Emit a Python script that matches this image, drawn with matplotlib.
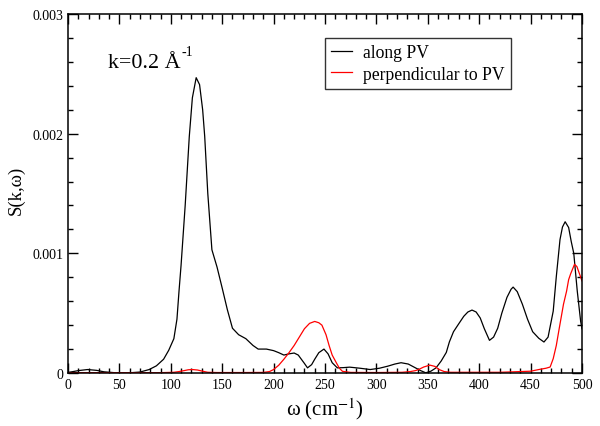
import numpy as np
import matplotlib
matplotlib.use('Agg')
import matplotlib.pyplot as plt
from matplotlib.ticker import MultipleLocator

plt.rcParams['font.family'] = ['Liberation Serif', 'DejaVu Serif']
plt.rcParams['mathtext.fontset'] = 'stix'

# S(k,w) along PV (values in units of 1e-3)
w_along = [0, 5, 10, 19, 28, 35, 45, 60, 70, 79, 86, 93, 98, 103, 106, 108, 110, 114, 118, 121,
           124.7, 128, 131, 133, 136, 140, 145, 150, 155, 160, 166, 173, 180, 185, 193, 200, 205,
           210, 215, 220, 224, 227, 230, 233, 237, 240, 244, 249, 253, 257, 262, 268, 274, 284,
           294, 303, 311, 318, 324, 331, 338, 343, 348, 353, 358, 363, 368, 371, 375, 380, 385,
           389, 393, 397, 401, 405, 410, 414, 418, 422, 427, 431, 433, 437, 442, 447, 452, 458,
           463, 467, 472, 475, 478.6, 481, 483.6, 487, 489.5, 492, 495.4, 498.7, 500]
s_along = [0.005, 0.012, 0.02, 0.029, 0.022, 0.01, 0.003, 0.002, 0.008, 0.029, 0.06, 0.115, 0.19,
           0.287, 0.45, 0.684, 0.9, 1.4, 1.977, 2.3, 2.468, 2.41, 2.2, 1.977, 1.5, 1.03, 0.885,
           0.71, 0.53, 0.374, 0.32, 0.287, 0.23, 0.2, 0.2, 0.187, 0.17, 0.15, 0.16, 0.167, 0.15,
           0.115, 0.08, 0.043, 0.07, 0.115, 0.17, 0.2, 0.16, 0.086, 0.043, 0.045, 0.049, 0.04,
           0.029, 0.04, 0.057, 0.075, 0.086, 0.075, 0.043, 0.02, 0.002, 0.015, 0.043, 0.1, 0.172,
           0.26, 0.345, 0.41, 0.474, 0.51, 0.526, 0.51, 0.46, 0.37, 0.273, 0.3, 0.374, 0.5, 0.632,
           0.7, 0.718, 0.68, 0.575, 0.45, 0.345, 0.29, 0.259, 0.3, 0.517, 0.805, 1.115, 1.22,
           1.264, 1.216, 1.1, 1.0, 0.684, 0.431, 0.37]

# S(k,w) perpendicular to PV (units of 1e-3)
w_perp = [0, 50, 90, 103, 108, 113, 117, 121, 126, 131, 136, 145, 170, 190, 196, 200, 205, 210,
          215, 220, 225, 230, 235, 240, 244, 247, 251, 254, 257, 261, 264, 267, 275, 300, 325,
          333, 338, 341, 346, 352, 357, 361, 366, 372, 420, 450, 458, 465, 469, 472, 475, 478,
          482, 485, 487, 489, 492.7, 495, 497, 500]
s_perp = [0.003, 0.003, 0.003, 0.006, 0.012, 0.02, 0.027, 0.029, 0.025, 0.015, 0.006, 0.004,
          0.004, 0.005, 0.012, 0.029, 0.065, 0.115, 0.17, 0.23, 0.3, 0.37, 0.415, 0.431, 0.42,
          0.4, 0.32, 0.23, 0.15, 0.086, 0.04, 0.014, 0.005, 0.004, 0.006, 0.012, 0.02, 0.029,
          0.05, 0.066, 0.055, 0.029, 0.012, 0.006, 0.006, 0.015, 0.029, 0.04, 0.05, 0.12, 0.23,
          0.38, 0.575, 0.684, 0.78, 0.83, 0.908, 0.89, 0.842, 0.77]

fig = plt.figure(figsize=(6, 4.27), dpi=100)
ax = fig.add_axes([0.1133, 0.1241, 0.8567, 0.8407])

ax.plot(w_along, np.array(s_along) * 1e-3, color='black', lw=0.9, label='along PV')
ax.plot(w_perp, np.array(s_perp) * 1e-3, color='red', lw=0.9, label='perpendicular to PV')

ax.set_xlim(0, 500)
ax.set_ylim(0, 0.003)
ax.xaxis.set_major_locator(MultipleLocator(50))
ax.xaxis.set_minor_locator(MultipleLocator(10))
ax.set_yticks([0, 0.001, 0.002, 0.003])
ax.set_yticklabels(['0', '0.001', '0.002', '0.003'])
ax.yaxis.set_minor_locator(MultipleLocator(0.0002))
ax.tick_params(which='both', direction='in', top=True, right=True, labelsize=10, width=1)
ax.tick_params(which='major', length=7)
ax.tick_params(which='minor', length=3.5)
for s in ax.spines.values():
    s.set_linewidth(1.1)

ax.set_xlabel(r'ω (cm$^{-1}$)', fontsize=15, labelpad=3)
ax.set_ylabel('S(k,ω)', fontsize=13.5, va='center')
ax.yaxis.set_label_coords(-0.101, 0.5125)
ax.text(39, 0.00256, 'k=0.2 Å', fontsize=15.8, va='baseline')
ax.text(110.5, 0.00266, '-1', fontsize=10, va='baseline')

leg = ax.legend(loc='upper left', bbox_to_anchor=(0.5, 0.933), fontsize=12.7, frameon=True,
                fancybox=False, edgecolor='black', handlelength=1.2, borderpad=0.35,
                labelspacing=0.25, handletextpad=0.6, borderaxespad=0)
leg.get_frame().set_linewidth(1)

fig.savefig('out.png', dpi=100)
